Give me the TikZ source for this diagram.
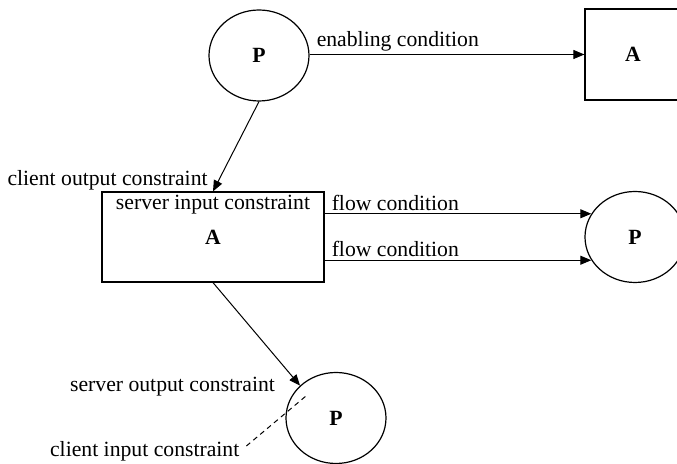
\documentclass[tikz,border=0pt]{standalone}
\usepackage{fontspec}
\setmainfont{Liberation Serif}
\usetikzlibrary{positioning}
\usetikzlibrary{calc}
\usetikzlibrary{arrows.meta}
\usetikzlibrary{shapes.geometric}

\begin{document}
\begin{tikzpicture}[x=0.5pt, y=-0.5pt,
                        font=\fontsize{10.85}{13}\selectfont,
                        place/.style={draw, ellipse, line width=0.6pt, inner sep=0pt,
                                      minimum width=50pt, minimum height=45.5pt, font=\fontsize{10.85}{13}\selectfont\bfseries},
                        actbox/.style={draw, rectangle, line width=0.6pt, inner sep=0pt, font=\fontsize{10.85}{13}\selectfont\bfseries},
                        link/.style={draw, line width=0.5pt, -{Triangle[length=5.5pt,width=4.5pt]}},
                        edgelbl/.style={pos=0, above right, yshift=-2pt}]
            \useasboundingbox (0,0) rectangle (677,464);
            \clip (0,0) rectangle (677,464);

            % Stellen und Aktivitaeten
            \node[place] (pTop) at (259,55.5) {P};
            \node[actbox, minimum width=48pt, minimum height=45.5pt] (aTop) at (633,54.5) {A};
            \node[actbox, minimum width=111pt, minimum height=45pt] (aMid) at (213,237) {A};
            \node[place] (pRight) at (635,237) {P};
            \node[place] (pBot) at (336,418) {P};

            \node[below=1.5pt of aMid.north, inner sep=0pt] (sInLbl) {server input constraint};
            \node[anchor=south east, inner sep=0pt] (cOutLbl) at ([shift={(-5,-1)}]aMid.north) {client output constraint};
            \node[anchor=east, inner sep=0pt] (sOutLbl) at ([shift={(-10,-31)}]pBot.west) {server output constraint};
            \node[anchor=east] (cInLbl) at ([shift={(-39,33)}]pBot.west) {client input constraint};
            \coordinate (cInEnd) at ([shift={(-30,-22)}]pBot.center);

            % Kanten
            \path[link] (pTop.east |- aTop.west) -- node[edgelbl] {enabling condition} (aTop.west);
            \path[link] (pTop.south) -- (aMid.north);
            \path[link] (aMid.east |- pRight.152) -- node[edgelbl] {flow condition} (pRight.152);
            \path[link] (aMid.east |- pRight.208) -- node[edgelbl] {flow condition} (pRight.208);
            \path[link] (aMid.south) -- (pBot.138);
            \draw[line width=0.5pt, dash pattern=on 2.5pt off 2pt] ([yshift=2.5pt]cInLbl.east) -- (cInEnd);
        \end{tikzpicture}
\end{document}
